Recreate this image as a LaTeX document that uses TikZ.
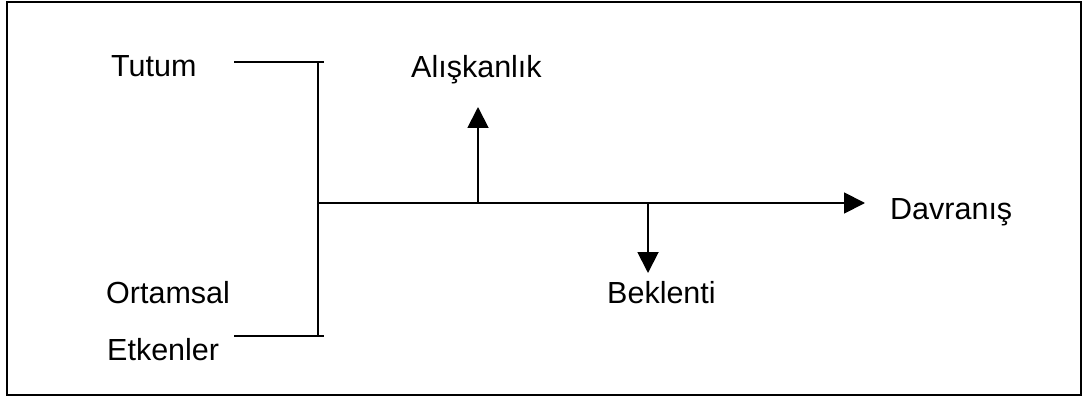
\documentclass[tikz,border=0pt]{standalone}
\usepackage{fontspec}
\setmainfont{Liberation Sans}
\usetikzlibrary{arrows.meta}
\begin{document}
\begin{tikzpicture}[x=1pt,y=-1pt,
  lbl/.style={anchor=base west,inner sep=0pt,font=\fontsize{30.5}{36}\selectfont},
  conn/.style={line width=1.9pt,line cap=butt},
  arr/.style={conn,-{Triangle[length=21pt,width=21pt]}}]
\useasboundingbox (0,0) rectangle (1084,401);
\draw[line width=2pt] (7,2) rectangle (1080.5,395);
% labels
\node[lbl] (tutum) at (111,77) {Tutum};
\node[lbl] (alis) at (411,78) {Alışkanlık};
\node[lbl] (davr) at (890,219) {Davranış};
\node[lbl] (bekl) at (607,303) {Beklenti};
\node[lbl] (ortam) at (106,303) {Ortamsal};
\node[lbl] (etken) at (107,360) {Etkenler};
% junction coordinates
\coordinate (tl) at (234,62);
\coordinate (tr) at (324,62);
\coordinate (bl) at (234,336);
\coordinate (br) at (324,336);
\coordinate (vt) at (318,62);
\coordinate (vb) at (318,336);
\coordinate (mj) at (318,203);
\coordinate (me) at (865,203);
\coordinate (uj) at (478,203);
\coordinate (ue) at (478,107);
\coordinate (dj) at (648,203);
\coordinate (de) at (648,273);
% connectors
\draw[conn] (tl) -- (tr);
\draw[conn] (bl) -- (br);
\draw[conn] (vt) -- (vb);
\draw[arr] (mj) -- (me);
\draw[arr] (uj) -- (ue);
\draw[arr] (dj) -- (de);
\end{tikzpicture}
\end{document}
